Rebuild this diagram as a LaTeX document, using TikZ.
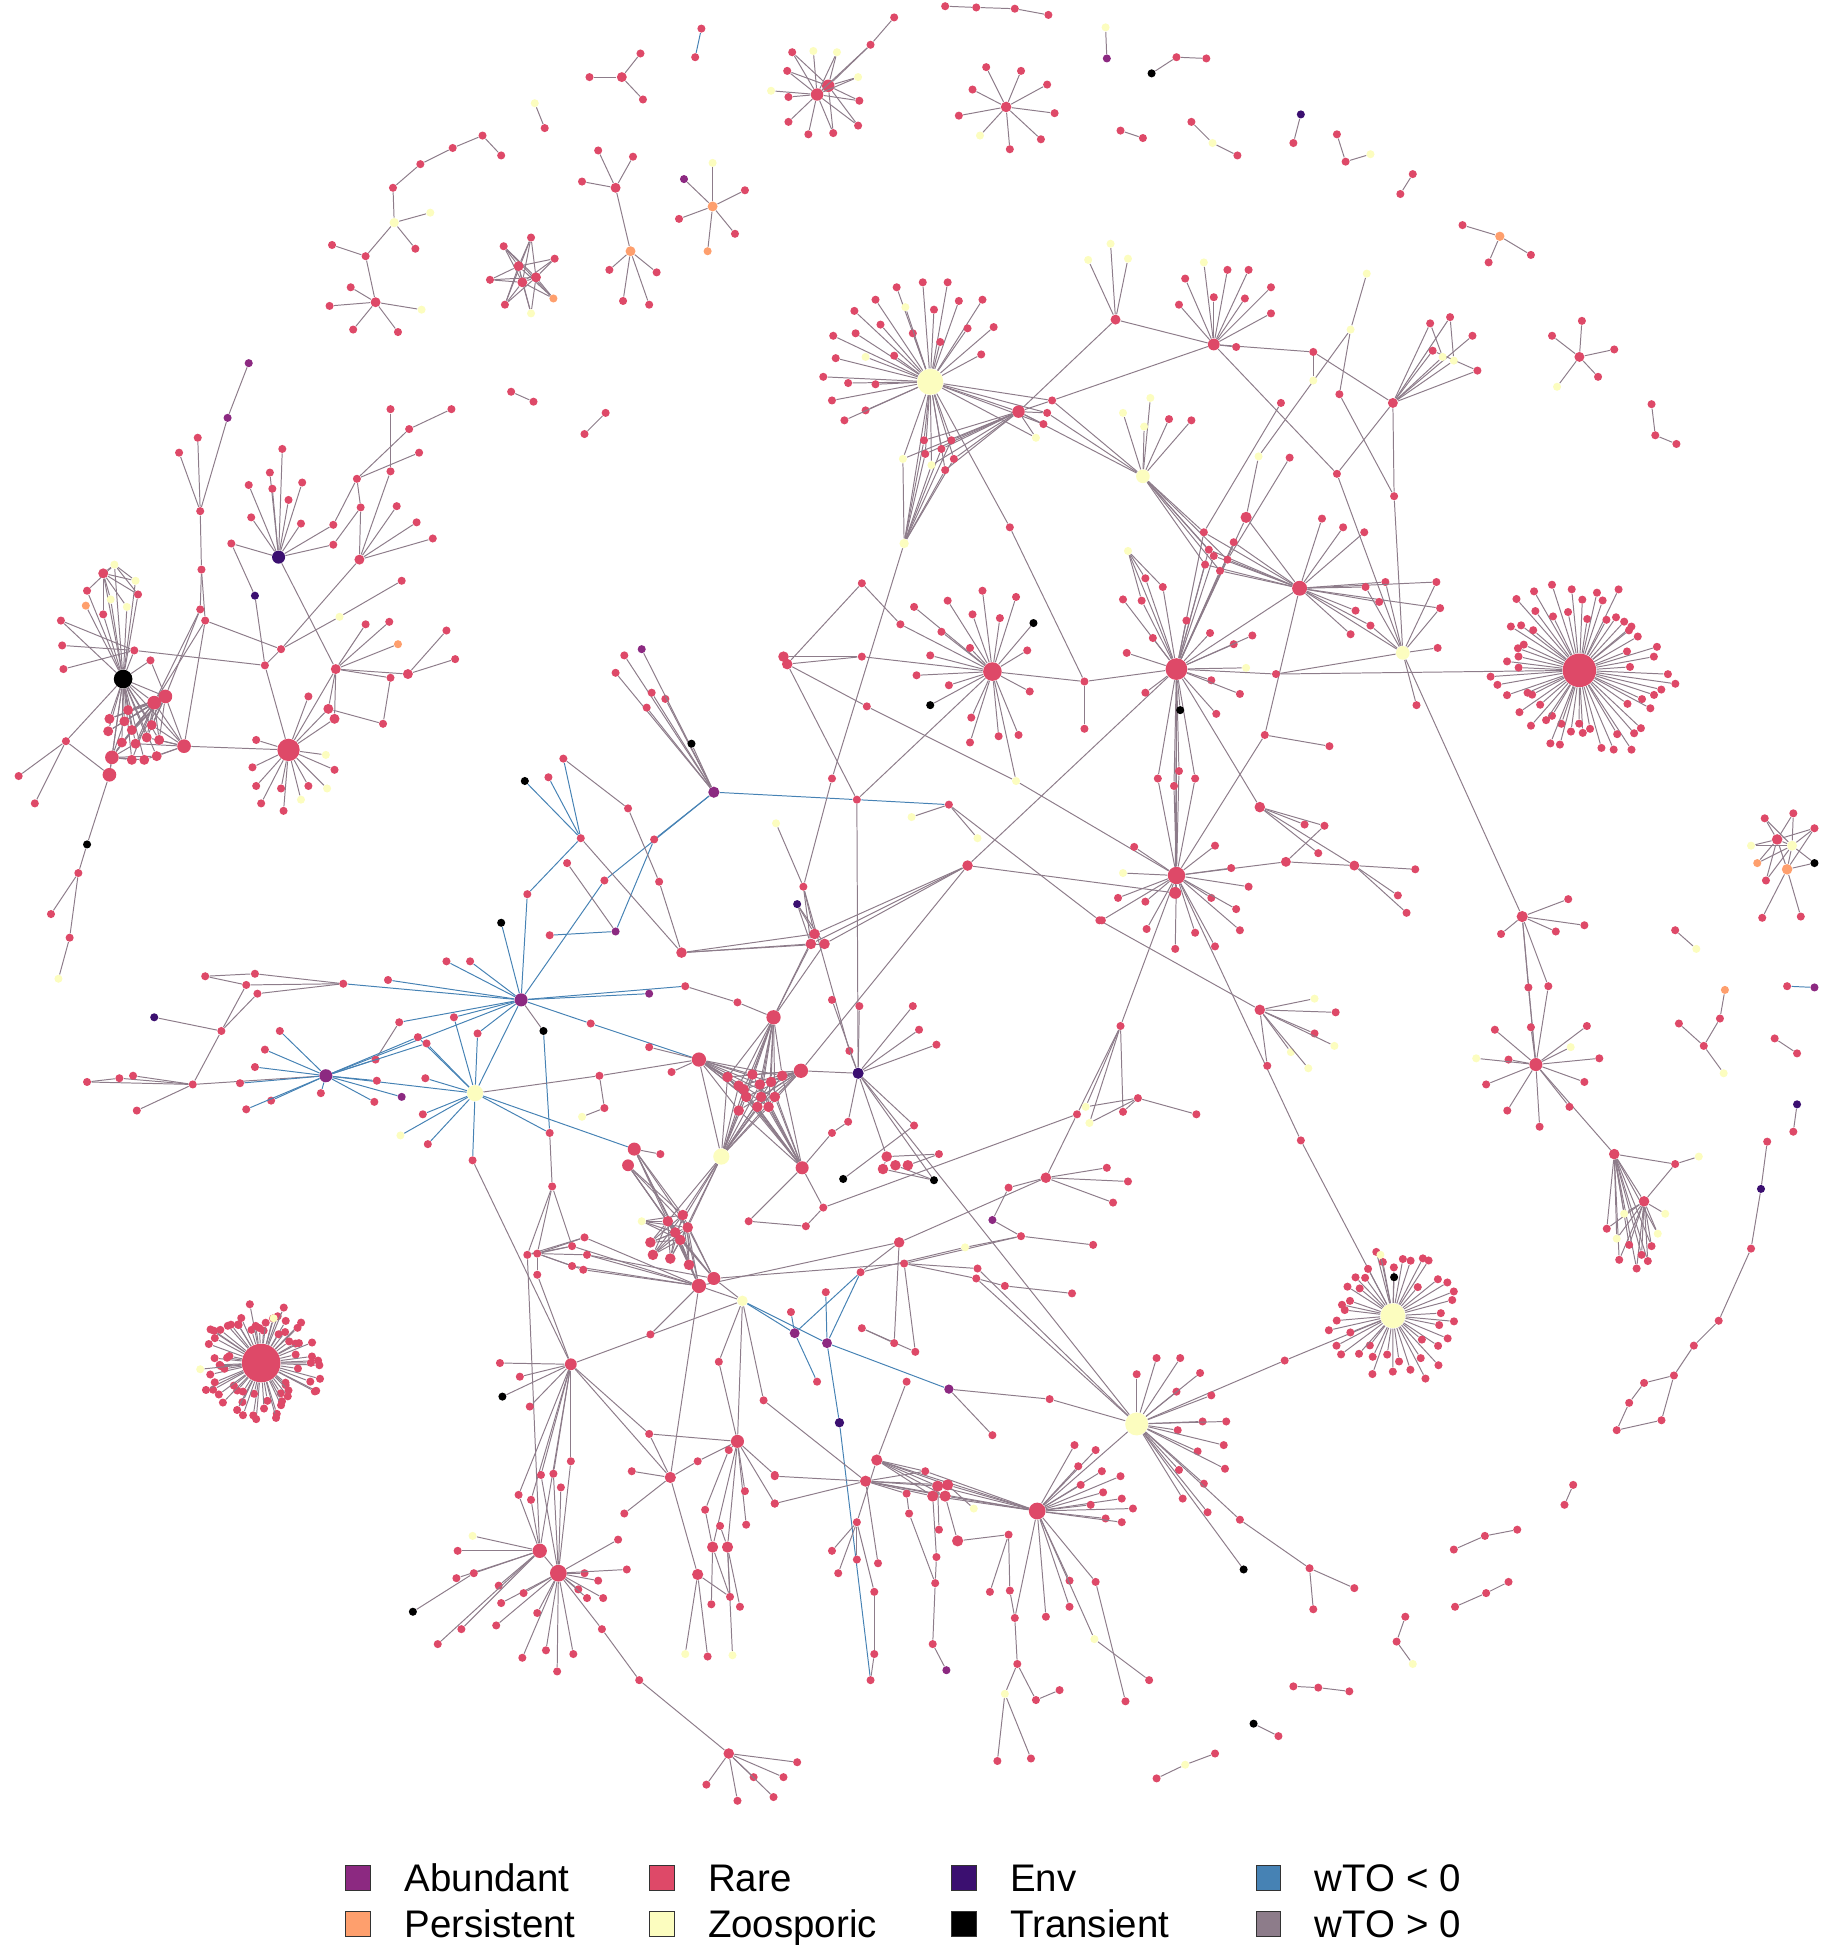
\documentclass[tikz,border=0pt]{standalone}
\usepackage{fontspec}
\setmainfont{Liberation Sans}
\usetikzlibrary{calc,positioning}
\definecolor{rarec}{RGB}{222,73,104}
\definecolor{abuc}{RGB}{140,41,129}
\definecolor{perc}{RGB}{254,159,109}
\definecolor{zooc}{RGB}{252,253,191}
\definecolor{envc}{RGB}{59,15,112}
\definecolor{trac}{RGB}{0,0,0}
\definecolor{negc}{RGB}{70,130,180}
\definecolor{posc}{RGB}{141,124,138}
\pgfdeclarelayer{bg}
\pgfsetlayers{bg,main}

% leaves of one hub, given as x/y
\newcommand{\hubleaves}[5]{%
  \foreach \x/\y [count=\i] in {#5}{%
    \node[#3] (#1#2\i) at (\x,\y) {};
    \draw[#4] (#1) -- (#1#2\i);}}
% full ring of rare leaves round a hub
\newcommand{\hubring}[4]{%
  \foreach \i in {1,...,#2}{%
    \pgfmathsetmacro\hAng{#4+(360/#2)*\i+3*rand}
    \pgfmathsetmacro\hRad{#3*(0.5+0.5*rnd)}
    \node[nrare] (#1r\i) at ($(#1)+(\hAng:\hRad)$) {};
    \draw[wpos] (#1) -- (#1r\i);}}

\begin{document}
\begin{tikzpicture}[x=0.02cm, y=-0.02cm,
    nd/.style={circle, inner sep=0pt, minimum size=0.13cm},
    dsz/.style={minimum size=#1},
    nrare/.style={nd, fill=rarec},
    nzoo/.style={nd, fill=zooc},
    nabu/.style={nd, fill=abuc},
    nper/.style={nd, fill=perc},
    nenv/.style={nd, fill=envc},
    ntra/.style={nd, fill=trac},
    wpos/.style={draw=posc, line width=0.45pt},
    wneg/.style={draw=negc, line width=0.45pt},
    legsq/.style={draw=black!80, line width=0.5pt, minimum size=0.4cm, inner sep=0pt},
    legtx/.style={anchor=base west, inner sep=0pt, font=\fontsize{17.6}{20}\selectfont}
]
\useasboundingbox (0,0) rectangle (1471,1568);
\pgfmathsetseed{11}

% ---------- small groups at the top
\foreach \n/\x/\y in {t1/564/23, t2/559/46, t3/760/5, t4/785/6, t5/816/7, t6/843/12, t8/515/43, t9/474/62, t10/517/80, t11/438/103, t13/719/14,
  c1/388/109, c2/403/125, c3/364/119, c4/338/132, c5/316/151, c8/334/200, c9/294/206, c10/267/197, c12/282/231, c13/265/246, c14/284/265, c15/320/267,
  cc1/405/198, cc2/427/191, cc3/446/208, cc5/394/225, cc8/406/245,
  d3/481/121, d4/509/126, d5/468/146, d6/490/217, d7/528/219, d8/501/242, d9/522/245,
  e4/599/153, e5/546/176, e6/591/188, f1/411/315, f2/429/323, f3/487/332, f4/470/349,
  g4/946/46, g5/970/47, g6/901/105, g7/919/111, g8/958/98, g10/995/125, g12/1040/115, g13/1075/108, g14/1082/130, g16/1136/140, g17/1126/156,
  g19/1176/181, g20/1197/211, g21/1231/205, g23/1248/270, g24/1272/258, g25/1298/281, g26/1285/303, g28/1328/325, g29/1331/350, g30/1348/357}
  \node[nrare] (\n) at (\x,\y) {};
\foreach \n/\x/\y in {t7/500/62, c11/302/243, cc4/417/214, cc6/420/227, cc7/431/223, d1/495/151, g22/1270/287}
  \node[nrare, dsz=0.16cm] (\n) at (\x,\y) {};
\foreach \n/\x/\y in {t12/430/83, c7/346/171, c16/339/249, cc9/427/252, e3/573/131, g1/889/22, g9/975/115, g15/1102/124, g27/1252/311}
  \node[nzoo] (\n) at (\x,\y) {};
\node[nzoo, dsz=0.15cm] (c6) at (317,179) {};
\node[nper] (cc10) at (445,240) {};
\node[nper, dsz=0.16cm] (d2) at (507,202) {};
\node[nper, dsz=0.16cm] (e1) at (573,166) {};
\node[nper] (e7) at (569,202) {};
\node[nper, dsz=0.15cm] (g18) at (1206,190) {};
\node[nabu] (e2) at (550,144) {};
\node[nabu] (g2) at (890,47) {};
\node[ntra] (g3) at (926,59) {};
\node[nenv] (g11) at (1046,92) {};

\node[nrare, dsz=0.2cm] (tA) at (657,76) {};
\node[nrare, dsz=0.2cm] (tB) at (666,69) {};
\hubleaves{tA}{a}{nrare}{wpos}{637/42, 700/36, 633/57, 634/78, 691/81, 634/98, 690/101, 650/108, 670/107}
\hubleaves{tA}{z}{nzoo}{wpos}{654/41, 673/42, 690/62, 620/73}
\node[nrare, dsz=0.17cm] (sB) at (809,86) {};
\hubleaves{sB}{a}{nrare}{wpos}{793/54, 821/57, 842/68, 782/72, 848/91, 771/93, 837/112, 812/120}
\hubleaves{sB}{z}{nzoo}{wpos}{788/109}

\begin{pgfonlayer}{bg}
\draw[wneg] (t1) -- (t2);
\foreach \a/\b in {t3/t4, t4/t5, t5/t6, t7/t8, t7/t9, t7/t10, t12/t11, t13/tAa2,
  c1/c2, c1/c3, c3/c4, c4/c5, c5/c6, c6/c7, c6/c8, c6/c9, c9/c10, c9/c11, c11/c12, c11/c13, c11/c14, c11/c15, c11/c16,
  cc4/cc1, cc4/cc2, cc4/cc3, cc4/cc5, cc4/cc8, cc4/cc9, cc4/cc10, cc6/cc1, cc6/cc2, cc6/cc3, cc6/cc5, cc6/cc8, cc6/cc9, cc6/cc10,
  cc7/cc1, cc7/cc2, cc7/cc3, cc7/cc5, cc7/cc8, cc7/cc9, cc7/cc10, cc4/cc6, cc6/cc7, cc1/cc10, cc2/cc8,
  d1/d3, d1/d4, d1/d5, d1/d2, d2/d6, d2/d7, d2/d8, d2/d9, e1/e2, e1/e3, e1/e4, e1/e5, e1/e6, e1/e7,
  f1/f2, f3/f4, g1/g2, g3/g4, g4/g5, g6/g7, g8/g9, g9/g10, g11/g12, g13/g14, g14/g15, g16/g17,
  g18/g19, g18/g20, g18/g21, g22/g23, g22/g24, g22/g25, g22/g26, g22/g27, g28/g29, g29/g30,
  tB/tAa1, tB/tAa2, tB/tAa3, tB/tAa5, tB/tAa7, tB/tAa9, tB/tAz2, tB/tAz3, tB/tA}
  \draw[wpos] (\a) -- (\b);
\end{pgfonlayer}

% ---------- left cluster
\node[ntra, dsz=0.3cm] (L0) at (99,546) {};
\foreach \n/\x/\y in {l3/103/571, l4/88/578, l5/100/580, l6/122/583, l7/106/587, l8/87/588, l9/118/593, l10/128/595, l11/98/597, l12/109/598, l15/106/611, l16/116/611, l17/126/608, lu1/83/461}
  \node[nrare, dsz=0.16cm] (\n) at (\x,\y) {};
\foreach \n/\x/\y in {l1/133/560, l2/124/565, l13/148/600, l14/90/609, l18/88/623}
  \node[nrare, dsz=0.22cm] (\n) at (\x,\y) {};
\foreach \n/\x/\y in {lu4/70/475, lu5/111/478, lu9/83/494, lm0/108/523, lm1/49/499, lm2/50/519, lm3/51/538, lm4/121/531,
  ls1/53/596, ls2/15/624, ls3/28/646, ls5/63/702, ls6/41/735, ls7/56/754,
  lv1/161/411, lv2/144/364, lv3/159/352, lv6/162/458, lv7/161/490, lv8/165/499,
  lp1/287/385, lp2/290/408, lp3/314/329, lp4/363/329, lp5/329/345, lp6/337/364, lp7/314/379, lp9/319/407, lp10/335/420, lp11/348/433, lq1/268/422, lq2/268/438,
  lr1/323/467, lr3/226/522, lr4/213/535, lw1/294/502, lw2/313/500, lw5/359/507, lw6/366/530, lw7/314/545, lw8/248/560, lw11/308/582}
  \node[nrare] (\n) at (\x,\y) {};
\foreach \n/\x/\y in {lp8/289/450, lw0/270/538, lw4/328/542, lw9/264/570, lw10/269/578}
  \node[nrare, dsz=0.16cm] (\n) at (\x,\y) {};
\foreach \n/\x/\y in {lu2/92/454, lu3/109/467, lu6/89/482, lu7/102/488, ls8/47/787, lr2/273/496}
  \node[nzoo] (\n) at (\x,\y) {};
\node[nper] (lu8) at (69,487) {};
\node[nper] (lw3) at (320,518) {};
\node[ntra] (ls4) at (70,679) {};
\node[nabu] (lv4) at (183,336) {};
\node[nabu] (lv5) at (200,292) {};
\node[nenv, dsz=0.21cm] (E1) at (224,448) {};
\node[nenv] (E2) at (205,479) {};
\hubleaves{E1}{a}{nrare}{wpos}{227/361, 217/380, 200/390, 219/393, 243/388, 232/402, 202/416, 242/421, 186/437}
\node[nrare, dsz=0.36cm] (H232) at (232,603) {};
\hubleaves{H232}{a}{nrare}{wpos}{206/595, 203/617, 269/619, 206/632, 226/634, 248/632, 210/646, 228/652}
\hubleaves{H232}{z}{nzoo}{wpos}{262/607, 263/634, 242/643}

\begin{pgfonlayer}{bg}
\foreach \k in {1,...,18} \draw[wpos] (L0) -- (l\k);
\foreach \k in {3,...,12} \draw[wpos] (l1) -- (l\k);
\foreach \k in {3,...,12,14,15} \draw[wpos] (l2) -- (l\k);
\foreach \k in {1,2,6,9,10,12,16,17} \draw[wpos] (l13) -- (l\k);
\foreach \k in {5,7,11,12,15,16,17,18} \draw[wpos] (l14) -- (l\k);
\foreach \k in {1,...,9} \draw[wpos] (L0) -- (lu\k);
\foreach \a/\b in {lu1/lu2, lu1/lu3, lu1/lu5, lu1/lu6, lu1/lu7, lu1/lu9, lu2/lu3, lu2/lu5, lu2/lu4,
  lm1/lm0, lm2/lm0, lm3/lm0, lm0/L0, lm0/lr4, lm4/L0, lm4/l1, lm1/L0,
  ls1/ls2, ls1/ls3, ls1/L0, ls1/l18, l18/ls4, ls4/ls5, ls5/ls6, ls5/ls7, ls7/ls8,
  lv5/lv4, lv4/lv1, lv2/lv1, lv3/lv1, lv1/lv6, lv6/lv7, lv6/lv8, lv7/l1, lv7/l2, lv8/l2, lv8/l13, lv8/lr3,
  lp3/lp7, lp7/lp8, lp4/lp5, lp5/lp1, lp6/lp1, lp1/lq1, lp1/lp2, lp2/lp8, lq2/lp2, E1/lq1, E1/lq2, lp8/lp9, lp8/lp10, lp8/lp11, lp8/lr3,
  E1a9/E2, E2/lr4, lr1/lr2, lr2/lr3, lr3/lr4, lr4/H232, E1/lw0,
  lw0/lw1, lw0/lw2, lw0/lw3, lw0/lw4, lw0/lw7, lw4/lw5, lw4/lw6, lw7/lw11, lw0/lw9, lw0/lw10, lw8/H232, lw9/H232, lw10/H232, lw11/lw9, lw0/H232, l13/H232}
  \draw[wpos] (\a) -- (\b);
\end{pgfonlayer}

% ---------- upper middle
\node[nzoo, dsz=0.42cm] (Z1) at (748,307) {};
\hubleaves{Z1}{a}{nrare}{wpos}{721/231, 742/227, 762/227, 704/241, 751/249, 771/242, 790/241, 687/250, 708/261, 734/268, 756/275, 778/264, 799/263, 670/270, 688/268, 719/286, 789/285, 672/288, 662/303, 682/308, 704/309, 669/322, 696/330, 679/338}
\hubleaves{Z1}{z}{nzoo}{wpos}{728/247, 696/287}
\foreach \n/\x/\y in {h2/846/322, h3/842/332, h4/839/341, h6/743/354, h7/765/354, h8/757/361, h9/744/365, h10/767/369, h13/760/378, h15/812/424,
  i3/1056/283, i8/1077/317, i10/1030/324, i11/1037/368, i12/1150/260, i13/1166/255, i14/1184/270, i15/1152/282, i18/1188/298, j1/1075/381, j2/1121/399,
  m1/968/428, m2/972/442, m3/976/447, m4/987/450, m5/969/454, m6/981/459, m7/992/436, x1/872/548, x2/1026/542, x3/872/586, n1/1017/591, n2/1069/600}
  \node[nrare] (\n) at (\x,\y) {};
\node[nrare, dsz=0.2cm] (h1) at (819,331) {};
\node[nrare, dsz=0.16cm] (i1) at (897,257) {};
\node[nrare, dsz=0.19cm] (i2) at (976,277) {};
\node[nrare, dsz=0.16cm] (i4) at (1120,324) {};
\node[nrare, dsz=0.18cm] (m8) at (1002,416) {};
\foreach \n/\x/\y in {h5/833/352, h11/726/369, h12/749/374, i5/1086/265, i6/1099/220, i7/1056/306, i9/1012/367, i16/1160/287, i17/1169/290}
  \node[nzoo] (\n) at (\x,\y) {};
\node[nzoo, dsz=0.15cm] (h14) at (727,437) {};
\hubleaves{i1}{z}{nzoo}{wpos}{875/209, 893/196, 907/208}
\hubleaves{i2}{a}{nrare}{wpos}{953/224, 987/217, 1004/217, 976/239, 1001/240, 948/245, 1022/231, 1022/252, 994/279}
\hubleaves{i2}{z}{nzoo}{wpos}{968/211}
\node[nzoo, dsz=0.22cm] (Z2) at (919,383) {};
\hubleaves{Z2}{z}{nzoo}{wpos}{903/332, 925/320, 920/343}
\hubleaves{Z2}{a}{nrare}{wpos}{940/337, 958/338}
\node[nrare, dsz=0.24cm] (M) at (1045,473) {};
\hubleaves{M}{a}{nrare}{wpos}{1063/417, 1080/424, 1097/428, 1114/468, 1155/468, 1098/472, 1158/489, 1109/484, 1090/491, 1102/503, 1086/510}
\node[nzoo, dsz=0.22cm] (Z5) at (1128,525) {};
\hubleaves{Z5}{a}{nrare}{wpos}{1156/521, 1139/567}
\node[nrare, dsz=0.3cm] (H797) at (798,540) {};
\hubleaves{H797}{a}{nrare}{wpos}{790/475, 817/480, 762/483, 782/494, 804/497, 735/488, 757/508, 780/521, 826/523, 748/527, 737/543, 763/551, 828/556, 781/577, 803/592, 819/591, 780/597}
\hubleaves{H797}{t}{ntra}{wpos}{831/501, 748/567}
\node[nrare, dsz=0.35cm] (H945) at (946,538) {};
\hubleaves{H945}{a}{nrare}{wpos}{903/482, 918/483, 921/465, 935/472, 954/499, 973/509, 992/518, 1007/511, 906/525, 927/513, 974/547, 997/558, 978/574, 921/557}
\hubleaves{H945}{z}{nzoo}{wpos}{907/443, 1002/537}
\hubleaves{H945}{t}{ntra}{wpos}{949/571}
\node[nrare, dsz=0.54cm] (H1270) at (1270,539) {};
\hubring{H1270}{60}{80}{0}

\node[nrare, dsz=0.28cm] (H946) at (946,704) {};
\hubleaves{H946}{a}{nrare}{wpos}{912/681, 977/680, 990/698, 1004/713, 899/722, 921/725, 974/722, 994/731, 922/747, 961/750, 997/748, 977/761, 945/763, 886/740}
\hubleaves{H946}{z}{nzoo}{wpos}{903/702}
\foreach \n/\x/\y in {o2/931/626, o3/948/620, o4/944/632, o5/961/626, o9/1049/663, o10/1065/664, o11/1060/686, o12/1138/699, o13/1124/720, o14/1131/734}
  \node[nrare] (\n) at (\x,\y) {};
\node[nrare, dsz=0.19cm] (o1) at (945,718) {};
\node[nrare, dsz=0.17cm] (o6) at (1013,649) {};
\node[nrare, dsz=0.16cm] (o7) at (1034,693) {};
\node[nrare, dsz=0.16cm] (o8) at (1089,696) {};

\begin{pgfonlayer}{bg}
\foreach \k in {1,...,13} {\draw[wpos] (Z1) -- (h\k); \draw[wpos] (h1) -- (h\k);}
\foreach \k in {6,...,13} \draw[wpos] (h14) -- (h\k);
\foreach \k in {1,...,8} {\draw[wpos] (m\k) -- (M); \draw[wpos] (m\k) -- (H945);}
\foreach \k in {1,...,6} \draw[wpos] (Z2) -- (m\k);
\foreach \k in {12,...,18} \draw[wpos] (i4) -- (i\k);
\foreach \k in {2,...,5} {\draw[wpos] (H945) -- (o\k); \draw[wpos] (o\k) -- (H946);}
\foreach \a/\b in {Z1/h14, Z1/h15, h15/x1, i1/h1, i1/i2, i2/h2, i2/i3, i3/i4, i2/j1, i6/i5, i5/i9, i9/m8, i5/i8, i8/j2, i7/i3, i10/m1, i11/m4,
  i12/i16, i13/i17, i15/i18, i4/j1, i4/j2, j1/Z5, j2/Z5, Z2/h1, Z2/h2, Z2/h3, M/Z5, M/H945, M/n1, H797/x1, x1/H945, x1/x3, H945/x2, x2/H1270, x2/Z5,
  n1/n2, n1/H946, Z5/Ma4, Z5/Ma5, Z5/Ma6, Z5/Ma7, Z5/Ma10, H945z1/H945a2, H945z1/H945a3, H945z1/H945a4,
  H946/o1, H945/o1, H945/H946, o6/o9, o6/o10, o6/o11, o6/o8, o7/o10, o7/o8, o7/H946, o8/o12, o8/o13, o8/o14, o6/H945}
  \draw[wpos] (\a) -- (\b);
\end{pgfonlayer}

% ---------- right side
\node[nrare, dsz=0.18cm] (H1224) at (1224,737) {};
\hubleaves{H1224}{a}{nrare}{wpos}{1261/723, 1274/744, 1251/749, 1207/751}
\node[nrare] (p1x) at (1229,794) {};
\node[nrare] (p2x) at (1245,793) {};
\node[nrare, dsz=0.21cm] (H1235) at (1235,856) {};
\hubleaves{H1235}{a}{nrare}{wpos}{1202/828, 1231/826, 1276/825, 1213/852, 1286/851, 1195/872, 1274/870, 1212/893, 1238/906, 1262/890}
\hubleaves{H1235}{z}{nzoo}{wpos}{1187/851, 1263/842}
\foreach \n/\x/\y in {r4/1292/988, r6/1310/1001, r7/1320/1009, r8/1328/1002, r10/1302/1013, r11/1316/1020, r12/1347/936, r15/1325/1014,
  ka1/1419/658, ka2/1442/654, ka3/1459/666, ka10/1420/708, ka11/1417/738, ka12/1448/737,
  kb1/1347/748, kb3/1437/793, kb6/1383/819, kb7/1370/841, kb8/1350/823, kb10/1427/835, kb11/1445/847, kb13/1442/910,
  ar2/1421/918, ar3/1408/1004, ar4/1382/1062, ar5/1362/1082, ar6/1346/1106, ar7/1322/1112, ar8/1310/1128, ar9/1336/1142, ar10/1300/1150,
  br1/1265/1194, br2/1258/1210, br3/1169/1246, br4/1194/1235, br5/1220/1230, br6/1170/1292, br7/1195/1281, br8/1213/1272,
  br9/1130/1300, br10/1123/1320, br12/1040/1356, br13/1060/1357, br14/1085/1360, br16/1028/1396, br17/930/1430, br19/977/1410}
  \node[nrare] (\n) at (\x,\y) {};
\foreach \n/\x/\y in {r1/1298/928, r2/1322/966, ka4/1429/675}
  \node[nrare, dsz=0.17cm] (\n) at (\x,\y) {};
\foreach \n/\x/\y in {r3/1306/976, r5/1300/996, r9/1333/992, r13/1366/930, r14/1339/976, ka6/1408/680, kb2/1364/763, kb9/1386/863, br11/1136/1338, br18/953/1419}
  \node[nzoo] (\n) at (\x,\y) {};
\node[nzoo, dsz=0.16cm] (ka5) at (1441,680) {};
\node[nper] (ka7) at (1413,694) {};
\node[nper, dsz=0.17cm] (ka8) at (1437,699) {};
\node[ntra] (ka9) at (1459,694) {};
\node[nabu] (kb4) at (1459,794) {};
\node[nper] (kb5) at (1387,796) {};
\node[nenv] (kb12) at (1445,888) {};
\node[nenv] (ar1) at (1416,956) {};
\node[ntra] (br15) at (1008,1386) {};
\node[nrare, dsz=0.17cm] (H1013) at (1013,812) {};
\hubleaves{H1013}{a}{nrare}{wpos}{1074/814, 1057/831, 1019/857}
\hubleaves{H1013}{z}{nzoo}{wpos}{1057/803, 1073/841, 1038/846, 1052/859}

\begin{pgfonlayer}{bg}
\foreach \k in {3,...,11,15} {\draw[wpos] (r1) -- (r\k); \draw[wpos] (r2) -- (r\k);}
\foreach \k in {1,2,3,5,6,7,8,10} \draw[wpos] (ka4) -- (ka\k);
\foreach \k in {1,2,3,6,7,8,9,10} \draw[wpos] (ka5) -- (ka\k);
\draw[wneg] (kb3) -- (kb4);
\foreach \a/\b in {Z5/H1224, H1224/p1x, H1224/p2x, p1x/H1235, p2x/H1235, H1224/H1235, H1235/r1, r1/r2, r1/r12, r12/r13, r2/r12, r2/r14,
  ka8/ka11, ka8/ka12, ka8/ka9, ka8/ka3, kb1/kb2, kb5/kb6, kb6/kb7, kb8/kb7, kb7/kb9, kb10/kb11, kb12/kb13,
  ar2/ar1, ar1/ar3, ar3/ar4, ar4/ar5, ar5/ar6, ar6/ar7, ar7/ar8, ar8/ar10, ar6/ar9, ar9/ar10,
  br1/br2, br3/br4, br4/br5, br6/br7, br7/br8, br9/br10, br10/br11, br12/br13, br13/br14, br15/br16, br17/br18, br18/br19}
  \draw[wpos] (\a) -- (\b);
\end{pgfonlayer}

% ---------- blue hubs and centre
\node[nabu, dsz=0.18cm] (A1) at (574,637) {};
\hubleaves{A1}{a}{nrare}{wpos}{502/527, 495/541, 524/557, 535/562, 520/569}
\hubleaves{A1}{b}{nabu}{wpos}{516/522}
\hubleaves{A1}{t}{ntra}{wpos}{556/598}
\node[nabu, dsz=0.21cm] (A2) at (419,804) {};
\hubleaves{A2}{a}{nrare}{wneg}{359/773, 378/773, 312/788}
\node[nabu, dsz=0.21cm] (A3) at (262,865) {};
\hubleaves{A3}{a}{nrare}{wneg}{225/829, 213/844, 205/858, 193/871, 258/879, 218/885, 198/892, 302/852, 303/869, 301/886, 336/834, 343/839}
\hubleaves{A3}{b}{nabu}{wneg}{323/882}
\node[nzoo, dsz=0.26cm] (Z3) at (382,879) {};
\hubleaves{Z3}{z}{nzoo}{wneg}{322/913}
\hubleaves{Z3}{a}{nrare}{wneg}{342/867, 340/896, 344/920, 365/818, 384/831}

\foreach \n/\x/\y in {ca/689/643, cb/763/647, gc/693/528, gd/693/469, ge/724/502, q1/884/740, q2/697/568, n3/669/626, P2/646/713, E3b/683/845,
  N1/467/674, N2/441/625, N3/453/610, N4/424/719, N5/526/675, N7/486/708, N9/442/752, N10/505/650, N11/530/709, N12/456/694,
  b1/165/785, b2/205/783, b3/198/792, b4/207/799, b5/276/791, b7/178/829, b8/155/872, b9/70/870, b10/96/867, b11/107/865, b12/110/893, b14/321/822,
  s442/442/911, s474/475/823, s522/522/842, s540/540/862, s482/482/865, s486/486/891, s531/531/928, s550/551/793, s593/593/806, z380/380/933,
  i1x/444/954, i2x/424/1009, i3x/432/1008, i4x/460/1002, i5x/470/995, i6x/472/1009, i7x/460/1018, i8x/469/1021, i9x/432/1025,
  u1/602/982, u2/648/986, u3/662/971, u4/669/911, u5/664/1039, u6/636/1055, u7/614/1126, u8/657/1111, u9/693/1068, u10/719/1080, u11/736/1087,
  u12/729/1111, u13/692/1023, u15/727/1016, u17/786/1020, u18/785/1028, u19/808/1034, u20/862/1040, u21/821/994, u22/879/1001, u24/811/955,
  u25/844/1125, u26/798/1154, u28/682/902, u29/735/905, u34/755/928, s523/523/1073, s578/578/1095,
  Y1/901/825, Y4/866/896, Y5/903/894, Y6/915/883, Y7/962/896, z1/1033/1094, w1/1046/917}
  \node[nrare] (\n) at (\x,\y) {};
\foreach \n/\x/\y in {gA/630/528, gB/633/534, P1/778/696, P4/655/751, P6/652/759, P7/663/759, P5/548/766, u14/723/999, u30/713/930, u31/710/940, u32/720/937, u33/730/937, Y8/841/947,
  k1/585/866, k2/594/873, k3/605/864, k4/611/872, k5/620/870, k6/629/865, k7/600/882, k8/612/882, k9/623/882, k10/594/893, k11/609/890, k12/618/890, k13/598/876,
  j1/537/982, j2/549/977, j3/543/991, j4/553/987, j5/547/997, j8/523/999, j9/525/1009, j10/539/1012, j11/554/1017}
  \node[nrare, dsz=0.17cm] (\n) at (\x,\y) {};
\foreach \n/\x/\y/\s in {Ka/562/852/0.23cm, Kb/622/818/0.23cm, Kc/644/861/0.23cm, Kd/645/939/0.21cm, Ja/562/1034/0.23cm, Jb/574/1028/0.21cm, Jc/510/924/0.21cm, Jd/505/937/0.19cm}
  \node[nrare, dsz=\s] (\n) at (\x,\y) {};
\node[nzoo, dsz=0.26cm] (Ke) at (580,930) {};
\node[nzoo, dsz=0.17cm] (Z4) at (597,1046) {};
\foreach \n/\x/\y in {j7/516/982, P8/624/662, q3/817/628, u16/776/1003, s467/468/898, Y2/873/890, Y3/876/903}
  \node[nzoo] (\n) at (\x,\y) {};
\hubleaves{cb}{z}{nzoo}{wpos}{733/657, 786/674}
\foreach \n/\x/\y in {N8/495/749, sab/522/799, u23/798/981}
  \node[nabu] (\n) at (\x,\y) {};
\node[nabu, dsz=0.16cm] (A4) at (639,1072) {};
\node[nabu, dsz=0.16cm] (A5) at (665,1080) {};
\node[nabu, dsz=0.15cm] (u27) at (763,1117) {};
\node[nenv] (P3) at (641,727) {};
\node[nenv] (b6) at (124,818) {};
\node[nenv, dsz=0.18cm] (E3) at (690,863) {};
\node[nenv, dsz=0.15cm] (E4) at (675,1144) {};
\hubleaves{E3}{a}{nrare}{wpos}{734/809, 739/828, 753/840, 691/809, 669/804}
\foreach \n/\x/\y in {T9/422/628, N13/403/742, s437/437/829, u35/678/948, u36/751/949}
  \node[ntra] (\n) at (\x,\y) {};
\hubleaves{Y8}{a}{nrare}{wpos}{890/939, 907/950, 895/967}

% ---------- big stars below
\node[nrare, dsz=0.62cm] (H210) at (210,1096) {};
\hubring{H210}{70}{50}{0}
\hubleaves{H210}{z}{nzoo}{wpos}{220/1060, 161/1101}
\node[nzoo, dsz=0.4cm] (Z6) at (1120,1058) {};
\hubring{Z6}{42}{60}{5}
\hubleaves{Z6}{t}{ntra}{wpos}{1121/1027}
\hubleaves{Z6}{z}{nzoo}{wpos}{1110/1009}
\node[nzoo, dsz=0.37cm] (Z7) at (914,1145) {};
\hubleaves{Z7}{a}{nrare}{wpos}{930/1092, 949/1092, 914/1105, 946/1119, 965/1104, 974/1122, 967/1143, 986/1143, 947/1150, 984/1162, 963/1167, 985/1181, 948/1182, 968/1193, 951/1205, 971/1216, 997/1222}
\node[nrare, dsz=0.27cm] (H834) at (834,1215) {};
\hubleaves{H834}{a}{nrare}{wpos}{864/1162, 881/1166, 867/1179, 886/1183, 901/1187, 869/1194, 887/1200, 902/1205, 877/1210, 911/1213, 889/1221, 902/1224, 860/1271, 860/1292, 881/1272, 841/1300}
\hubleaves{H834}{z}{nzoo}{wpos}{880/1318}
\foreach \n/\x/\y in {y1/1053/1261, y2/1089/1277, y3/1056/1294, vf1/924/1351, vf2/905/1368}
  \node[nrare] (\n) at (\x,\y) {};
\node[ntra] (y4) at (1000,1262) {};

\begin{pgfonlayer}{bg}
\foreach \o in {Ka,Kb,Kc,Kd,Ke} \foreach \k in {1,...,13} \draw[wpos] (\o) -- (k\k);
\foreach \o in {Ja,Jb,Jc,Jd,Ke,j7,j8,j9,j10,j11} \foreach \k in {1,...,5} \draw[wpos] (\o) -- (j\k);
\foreach \a/\b in {A1/ca, ca/cb, A1/N5, N5/N8, A1/N7, N7/A2, T9/N1, N2/N1, N3/N1, N1/N4, N4/A2, N8/N9, N13/A2, A2/b5, A2/b14, A2/Z3, A3/Z3,
  A3/A2, Z3/A3a11, Z3/A3a12, A2/Z3a4, A2/Z3a5, A2/sab, A2/s550, A2/s474, s474/Ka, Z3/z380, s437/s442, Z3/Jc, Z3/s442,
  A4/Z4, A5/Z4, u13/A4, u13/A5, u8/A4, u6/A4, u5/A5, A5/E4, u27/A5}
  \draw[wneg] (\a) -- (\b);
\foreach \a/\b in {gA/gB, gA/gc, gB/gc, gc/H797, gd/ge, ge/H797, gd/gB, gB/q2, q2/q3, q3/H946, q3/H797, gB/ca, ca/H797, ca/E3, cb/q1, q1/H1013,
  h14/n3, n3/P2, P8/P2, P1/H945, P1/o1, P1/P4, P1/P6, P1/P7, P5/P4, P5/P6, P5/P7, P2/P4, P2/P6, P3/P4, P3/P6, P3/P7, P4/Kb, P6/Kb, P7/Kb,
  P2/E3b, E3b/E3, Kc/E3, N10/N11, N11/P5, N12/N8, N1/P5, N3/N10, s550/s593, s593/Kb,
  b1/b2, b1/b3, b2/b5, b3/b5, b4/b5, b3/b7, b4/b7, b6/b7, b7/b8, b8/b9, b8/b10, b8/b11, b9/b10, b8/b12, b8/A3, b14/A3a8,
  s437/A2, s442/i1x, s522/Ka, s540/Ka, s482/Ka, s486/s482, s531/Jc, s467/s486, s482/Z3,
  i1x/i2x, i1x/i3x, i1x/i4x, i3x/i4x, i3x/i5x, i3x/i6x, i3x/i7x, i3x/i8x, i2x/i4x, i2x/i5x, i4x/Ja, i5x/Ja, i6x/Ja, i7x/Ja, i8x/Ja, i6x/Jb, i9x/i3x,
  u1/u2, u1/Kd, u3/Kd, u4/Kd, u4/u28, u28/E3, E3/u36, E3/u30, E3/Z7, u30/u34, u31/u36, u32/u36, u33/u34, u30/u31, u35/u29, u29/E3,
  u24/Y8, u24/u23, u23/u21, u14/Y8, u14/Ja, u15/u21, u15/Jb, u16/u21, u21/u22, u16/u13, u17/u15, u18/u15, u18/u19, u19/u20, u17/Z7, u18/Z7,
  u27/u25, u27/u26, u25/Z7, u9/u10, u9/u11, u10/u14, u11/u15, u13/u14, u7/Z4, u2/u3, Ke/Ka, Kc/P1,
  Y1/H946, Y1/Y2, Y1/Y3, Y1/Y5, Y1/Y4, Y6/Y7, Y5/Y6, Y2/Y6, Y3/Y6, Y4/Y8, Y4/u3,
  Z4/Ja, Z4/Jb, Z4/s578, s523/Ja, w1/H946, w1/Z6, Z6/z1, z1/Z7}
  \draw[wpos] (\a) -- (\b);
\end{pgfonlayer}

% ---------- bottom left
\node[nrare, dsz=0.19cm] (G) at (459,1097) {};
\hubleaves{G}{a}{nrare}{wpos}{402/1096, 418/1107, 426/1131}
\hubleaves{G}{t}{ntra}{wpos}{404/1123}
\node[nrare, dsz=0.23cm] (W1) at (434,1247) {};
\node[nrare, dsz=0.27cm] (W2) at (449,1265) {};
\hubleaves{W1}{a}{nrare}{wpos}{368/1247, 367/1269, 381/1265, 417/1202, 427/1206, 401/1275, 371/1310, 352/1322}
\hubleaves{W1}{z}{nzoo}{wpos}{380/1235}
\hubleaves{W2}{a}{nrare}{wpos}{435/1186, 445/1185, 459/1175, 451/1196, 403/1289, 421/1281, 432/1297, 399/1307, 470/1265, 481/1271, 465/1278, 472/1285, 485/1285, 504/1262, 497/1238, 484/1310, 420/1333, 439/1327, 461/1330, 448/1344}
\node[ntra] (wt) at (332,1296) {};
\node[nrare] (bm) at (514,1351) {};
\node[nrare, dsz=0.17cm] (U) at (586,1410) {};
\hubleaves{U}{a}{nrare}{wpos}{641/1417, 630/1429, 606/1429, 622/1445, 568/1435, 593/1448}
\node[nrare, dsz=0.21cm] (Q) at (593,1159) {};
\foreach \n/\x/\y in {qq1/522/1153, qq2/586/1166, qq3/561/1175, qq5/508/1183, qq6/623/1186, qq7/623/1209, qq8/599/1199, qq9/600/1226, qq10/579/1227, qq11/567/1214,
  qq15/572/1290, qq16/587/1284, qq17/595/1292, qq19/569/1332, qq21/502/1217}
  \node[nrare] (\n) at (\x,\y) {};
\foreach \n/\x/\y in {qq4/539/1188, qq12/573/1244, qq13/585/1244, qq14/561/1266}
  \node[nrare, dsz=0.18cm] (\n) at (\x,\y) {};
\node[nzoo] (qq18) at (551,1330) {};
\node[nzoo] (qq20) at (589,1331) {};

% ---------- bottom middle
\foreach \n/\x/\y in {v3/744/1183, v8/729/1201, v9/731/1217, v10/755/1230, v12/753/1252, v14/811/1234,
  vb1/752/1273, vb2/750/1322, vc1/796/1280, vc2/812/1279, vc3/816/1301, vc4/818/1338, vc6/802/1416, vc7/829/1414, vc8/833/1367, vc9/852/1359,
  vd1/689/1224, vd2/669/1247, vd3/689/1254, vd4/706/1257, vd5/623/1187, vd6/623/1209, ve2/703/1280, ve3/703/1330, ve4/700/1351, ve6/674/1265}
  \node[nrare] (\n) at (\x,\y) {};
\foreach \n/\x/\y in {v1/705/1174, v2/696/1191, v4/754/1195, v5/762/1194, v6/750/1203, v7/760/1203, v11/770/1239}
  \node[nrare, dsz=0.18cm] (\n) at (\x,\y) {};
\node[nzoo] (v13) at (783,1213) {};
\node[nzoo] (vc5) at (808,1362) {};
\node[nabu] (vb3) at (761,1343) {};

\begin{pgfonlayer}{bg}
\foreach \k in {3,...,7} {\draw[wpos] (H834) -- (v\k); \draw[wpos] (v1) -- (v\k); \draw[wpos] (v2) -- (v\k);}
\draw[wneg] (E4) -- (ve4);
\foreach \a/\b in {Z7a17/y1, y1/y2, y1/y3, Z7/y4, H834/Z7, H834z1/vf1, H834a15/vf2,
  z380/G, i9x/G, Z4/G, Z4/Q, G/W2a1, G/W2a2, G/W2a3, G/W1a4, G/W1a5, G/W1, W1/W2, wt/W1a3, W2a16/bm, bm/U, W1/i2x,
  Q/qq2, Q/qq3, Q/qq6, Q/qq7, Q/qq8, Q/qq9, Q/qq12, Q/qq13, qq1/Q, qq3/qq4, qq4/qq1, qq4/qq5, qq4/qq21, qq4/G, qq4/qq14, qq2/qq11, qq11/qq12,
  qq10/qq13, qq12/qq15, qq12/qq16, qq13/qq17, qq13/qq16, qq14/qq18, qq14/qq19, qq13/qq20, qq14/qq16, qq1/G, Ja/qq4, s578/Q,
  H834/v1, H834/v2, v4/v10, v6/v12, v7/v11, v5/v13, v11/v14, v14/vc1, v14/vc2, vc2/vc3, vc3/vc4, vc4/vc5, vc5/vc6, vc5/vc7, vc4/vc8, vc8/vc9, H834/vc3,
  v12/vb1, vb1/vb2, vb2/vb3, v9/v8, v8/v2, v9/vb1, v1/vd1, vd1/vd2, vd1/vd3, v2/vd4, v1/u12, vd5/v2, vd6/v2, vd1/ve2, ve2/ve3, ve3/ve4, ve6/vd1, u7/v2}
  \draw[wpos] (\a) -- (\b);
\end{pgfonlayer}

% ---------- legend
\foreach \c/\t/\x/\y [count=\i] in {abuc/Abundant/288/1510, perc/Persistent/288/1547, rarec/Rare/532/1510, zooc/Zoosporic/532/1547,
  envc/Env/775/1510, trac/Transient/775/1547, negc/{wTO < 0}/1020/1510, posc/{wTO > 0}/1020/1547} {
  \node[legsq, fill=\c] (lg\i) at (\x,\y) {};
  \node[legtx] (lt\i) at ($(lg\i.center)+(37,11)$) {\t};
}
\end{tikzpicture}
\end{document}
